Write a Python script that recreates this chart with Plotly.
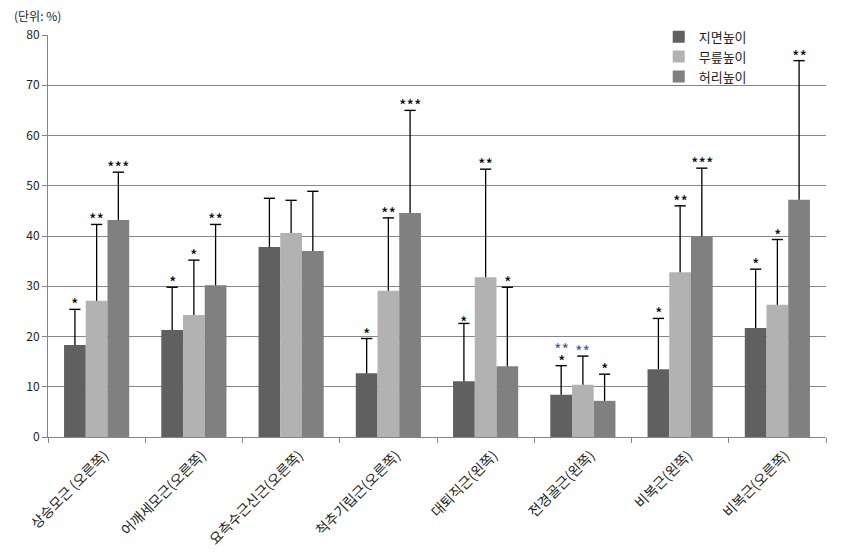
import plotly.graph_objects as go

muscles = ['상승모근 (오른쪽)', '어깨세모근(오른쪽)', '요측수근신근(오른쪽)', '척추기립근(오른쪽)',
           '대퇴직근(왼쪽)', '전경골근(왼쪽)', '비복근(왼쪽)', '비복근(오른쪽)']
series = ['지면높이', '무릎높이', '허리높이']

ground = [18.3, 21.3, 37.8, 12.7, 11.1, 8.4, 13.5, 21.7]
knee = [27.1, 24.3, 40.6, 29.1, 31.8, 10.4, 32.8, 26.3]
waist = [43.2, 30.2, 37.0, 44.6, 14.1, 7.2, 39.9, 47.2]

ground_sd = [7.1, 8.5, 9.7, 6.9, 11.5, 5.8, 10.1, 11.7]
knee_sd = [15.2, 10.9, 6.5, 14.5, 21.5, 5.7, 13.2, 13.0]
waist_sd = [9.5, 12.1, 11.9, 20.4, 15.7, 5.3, 13.6, 27.7]

ground_sig = ['*', '*', '', '*', '*', '*', '*', '*']
knee_sig = ['**', '*', '', '**', '**', '', '**', '*']
waist_sig = ['***', '**', '', '***', '*', '*', '***', '**']
# blue marks (second comparison) on 전경골근
ground_sig2 = ['', '', '', '', '', '**', '', '']
knee_sig2 = ['', '', '', '', '', '**', '', '']

colors = ['#606060', '#b2b2b2', '#808080']
blue = '#3b5ea8'
bargap = 0.33

fig = go.Figure()
for k, (name, vals, sd, col) in enumerate(zip(series, [ground, knee, waist],
                                              [ground_sd, knee_sd, waist_sd], colors)):
    fig.add_trace(go.Bar(
        x=muscles, y=vals, name=name, marker_color=col, marker_line_width=0,
        error_y=dict(type='data', array=sd, arrayminus=[0] * len(sd), symmetric=False,
                     color='black', thickness=1.3, width=0),
        offsetgroup=str(k), hoverinfo='skip',
    ))

# caps on top of the error bars only (no cap at the bar top)
for k, (vals, sd) in enumerate(zip([ground, knee, waist], [ground_sd, knee_sd, waist_sd])):
    tops = [v + s for v, s in zip(vals, sd)]
    fig.add_trace(go.Scatter(
        x=muscles, y=tops, mode='markers',
        marker=dict(symbol='line-ew', size=8, line=dict(width=1.4, color='black')),
        offsetgroup=str(k), showlegend=False, hoverinfo='skip', cliponaxis=False,
    ))

# significance stars
plot_w = 826 - 40 - 8
bar_w = plot_w / len(muscles) * (1 - bargap) / 3
for k, (vals, sd, sig, sig2) in enumerate(zip([ground, knee, waist], [ground_sd, knee_sd, waist_sd],
                                               [ground_sig, knee_sig, waist_sig],
                                               [ground_sig2, knee_sig2, [''] * 8])):
    for i, m in enumerate(muscles):
        top = vals[i] + sd[i]
        shift = -9 if not (k == 0 and i == 4) else -13
        if sig[i]:
            fig.add_annotation(x=m, y=top, text=sig[i], showarrow=False, xref='x', yref='y',
                               xshift=(k - 1) * bar_w, yshift=shift, yanchor='bottom',
                               font=dict(size=16, color='black'))
        if sig2[i]:
            extra = 12 if sig[i] else 0
            fig.add_annotation(x=m, y=top, text=sig2[i], showarrow=False, xref='x', yref='y',
                               xshift=(k - 1) * bar_w, yshift=shift + extra, yanchor='bottom',
                               font=dict(size=16, color=blue))

fig.add_annotation(x=-0.046, y=1.075, xref='paper', yref='paper', text='(단위: %)', showarrow=False,
                   xanchor='left', yanchor='top', font=dict(size=12, color='#222'))

fig.update_layout(
    width=826, height=543,
    margin=dict(l=40, r=8, t=27, b=114, autoexpand=False),
    paper_bgcolor='white', plot_bgcolor='white',
    barmode='group', bargap=bargap, bargroupgap=0,
    scattermode='group', scattergap=bargap,
    font=dict(family='Noto Sans CJK KR, sans-serif', color='#222'),
    legend=dict(x=0.785, y=1.033, xanchor='left', yanchor='top', bgcolor='rgba(0,0,0,0)',
                font=dict(size=13), tracegroupgap=0, itemwidth=30),
    xaxis=dict(tickangle=-45, tickfont=dict(size=14), showline=True, linecolor='#868686',
               ticks='outside', tickson='boundaries', ticklen=5, tickcolor='#868686',
               showgrid=False, automargin=False, ticklabelshift=8, ticklabelstandoff=4),
    yaxis=dict(range=[0, 80], dtick=10, tickfont=dict(size=12), showline=True,
               linecolor='#868686', ticks='outside', ticklen=5, tickcolor='#868686',
               gridcolor='#868686', gridwidth=1, zeroline=False, automargin=False),
)

fig.write_html('out.html')
